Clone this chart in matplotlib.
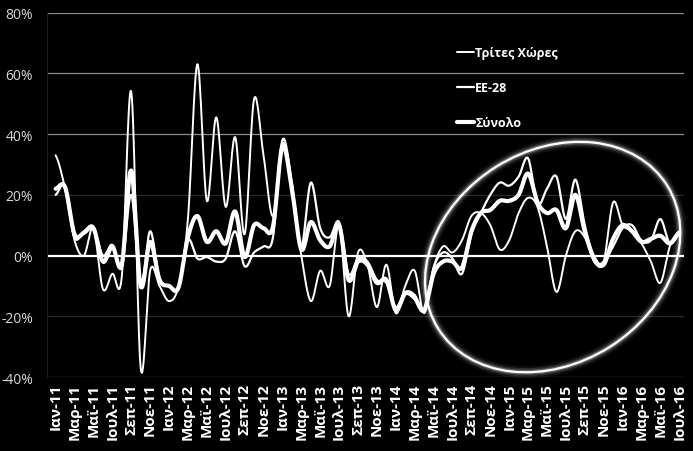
import matplotlib.pyplot as plt
import numpy as np
from matplotlib.patches import Ellipse
from matplotlib.transforms import IdentityTransform
from matplotlib.ticker import FuncFormatter

plt.rcParams['font.family'] = ['Open Sans', 'DejaVu Sans']

greek_months = ['Ιαν', 'Φεβ', 'Μαρ', 'Απρ', 'Μαϊ', 'Ιουν', 'Ιουλ', 'Αυγ', 'Σεπ', 'Οκτ', 'Νοε', 'Δεκ']
months = [f'{m}-{y % 100}' for y in range(2011, 2017) for m in greek_months][:67]  # Ιαν-11 .. Ιουλ-16

# monthly % change
third_countries = [33, 22, 5, 0, 9, -11, -6, -7, 54, -37, -5, -10,
                   -15, -10, 12, 63, 18, 45.5, 16, 39, 7, 51.5, 33, 13,
                   37, 22, 0, -15, -5, -10, 10, -20, 1, -3, -17, -3,
                   -19, -10, -5, -19, -4, 3, 1, 5, 13, 14, 10, 2,
                   5, 14, 19, 16, 3, -12, 0, 8, 6, -2, -2, 17.5,
                   10, 8, 4, -2, -9, 3, 8]
eu28 = [20, 23, 6, 8, 9.5, 0, 3.5, -4, 20, -10, 8, -8,
        -10, -11, 5, -1, -0.5, -2, -1, 8, -3.5, 1, 3, 6,
        38, 24, 3, 24, 9, 6, 11, -6, -1, -2, -8, -9,
        -17, -12, -13, -18, -4, 1, -1, -6, 7, 14, 20, 24,
        23, 26, 32, 17, 22, 26, 12, 25, 10, -2, -2, 3,
        9, 10, 5, 5, 12, 4, 7]
total = [22, 22.5, 7, 7.5, 9, -2, 3, -3, 28, -10, 4.5, -8,
         -10, -10.5, 6, 13, 4.5, 8, 4, 14.5, -0.5, 10, 9, 9.5,
         36, 22, 2, 11, 5, 3, 10, -8, -2, -3, -9, -8,
         -18, -12.5, -14, -18, -6, -2, -2, -4, 8, 14, 15, 18,
         18, 20, 27, 17.5, 14, 15, 9, 20, 8, -1, -3, 5.5,
         10, 8, 4.5, 5.5, 6.5, 4, 7.5]

labels = ['Τρίτες Χώρες', 'ΕΕ-28', 'Σύνολο']


def smooth(y, n=16):
    # excel-like smoothed line: bezier through every point
    y = np.asarray(y, float)
    p = np.concatenate([[y[0]], y, [y[-1]]])
    t = np.linspace(0, 1, n, endpoint=False)
    xs, ys = [], []
    for i in range(len(y) - 1):
        p0, p1, p2, p3 = p[i:i + 4]
        c1 = p1 + (p2 - p0) / 6
        c2 = p2 - (p3 - p1) / 6
        ys.append((1 - t)**3 * p1 + 3 * (1 - t)**2 * t * c1 + 3 * (1 - t) * t**2 * c2 + t**3 * p2)
        xs.append(i + t)
    xs.append([len(y) - 1])
    ys.append([y[-1]])
    return np.concatenate(xs), np.concatenate(ys)


fig = plt.figure(figsize=(6.93, 4.52), dpi=100, facecolor='black')
ax = fig.add_axes([0.068, 0.1637, 0.919, 0.8063])
ax.set_facecolor('black')

for v, c in zip([80, 60, 40, 20, -20, -40], ['#8c8c8c', '#8c8c8c', '#8c8c8c', '#2a2a2a', '#2a2a2a', '#6e6e6e']):
    ax.axhline(v, color=c, lw=0.9, zorder=1)
ax.axhline(0, color='white', lw=1.6, zorder=2)

for series, lw, lab in zip([third_countries, eu28, total], [1.4, 1.6, 3.0], labels):
    xs, ys = smooth(series)
    ax.plot(xs, ys, color='white', lw=lw, label=lab, zorder=3, solid_capstyle='round')

ax.set_xlim(-0.9, 66.5)
ax.set_ylim(-40, 80)
ax.set_yticks(range(-40, 81, 20))
ax.yaxis.set_major_formatter(FuncFormatter(lambda v, p: f'{int(v)}%'))
ax.set_xticks(range(0, len(months), 2))
ax.set_xticklabels(months[::2], rotation=90, fontweight='bold', fontsize=11, color='white')
ax.tick_params(axis='x', length=0, pad=4)
ax.tick_params(axis='y', length=0, pad=10, labelsize=10, labelcolor='#d9d9d9')
for s in ['top', 'right', 'bottom']:
    ax.spines[s].set_visible(False)
ax.spines['left'].set_color('#1c1c1c')

leg = ax.legend(loc='upper left', bbox_to_anchor=(451 / 693, 1 - 41 / 452), bbox_transform=fig.transFigure,
                frameon=False, handlelength=1.3, handletextpad=0.15, labelspacing=1.75, borderpad=0,
                prop={'weight': 'bold', 'size': 9})
for t in leg.get_texts():
    t.set_color('white')

# glowing ellipse around 2014-2016
cx, cy = ax.transData.transform((52.6, -0.5))
for lw, a in [(9, 0.06), (6, 0.12), (3.5, 0.25), (1.6, 1)]:
    ax.add_patch(Ellipse((cx, cy), 270, 213, angle=32, transform=IdentityTransform(),
                         fill=False, edgecolor='white', lw=lw, alpha=a, clip_on=False, zorder=4))

fig.savefig('out.png', dpi=100, facecolor='black')
